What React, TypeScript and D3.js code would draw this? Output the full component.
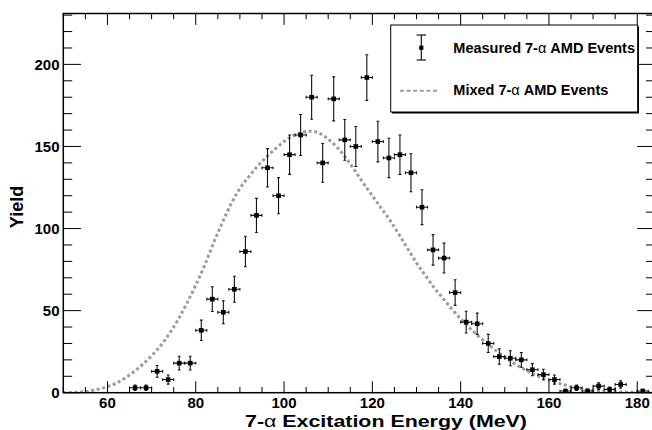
import React from "react";
import * as d3 from "d3";

// ---- data ----
const binCenters = [
  66.25, 68.75, 71.25, 73.75, 76.25, 78.75, 81.25, 83.75, 86.25, 88.75,
  91.25, 93.75, 96.25, 98.75, 101.25, 103.75, 106.25, 108.75, 111.25, 113.75,
  116.25, 118.75, 121.25, 123.75, 126.25, 128.75, 131.25, 133.75, 136.25, 138.75,
  141.25, 143.75, 146.25, 148.75, 151.25, 153.75, 156.25, 158.75, 161.25, 163.75,
  166.25, 168.75, 171.25, 173.75, 176.25, 181.25,
];
const measured = [
  3, 3, 13, 8, 18, 18, 38, 57, 49, 63,
  86, 108, 137, 120, 145, 157, 180, 140, 179, 154,
  150, 192, 153, 143, 145, 134, 113, 87, 82, 61,
  43, 42, 30, 22, 21, 20, 14, 11, 8, 1,
  3, 1, 4, 2, 5, 1,
];
const measuredErr = [
  1.7, 1.7, 3.6, 2.8, 4.2, 4.2, 6.2, 7.5, 7.0, 7.9,
  9.3, 10.4, 11.7, 11.0, 12.0, 12.5, 13.4, 11.8, 13.4, 12.4,
  12.2, 13.9, 12.4, 12.0, 12.0, 11.6, 10.6, 9.3, 9.1, 7.8,
  6.6, 6.5, 5.5, 4.7, 4.6, 4.5, 3.7, 3.3, 2.8, 1.0,
  1.7, 1.0, 2.0, 1.4, 2.2, 1.0,
];
const binHalfWidth = 1.25;

const mixedE = [
  50, 54, 58, 62, 66, 70, 73, 76, 78, 80, 82, 84, 86, 88, 90, 92, 94, 96, 98, 100,
  102, 104, 106, 108, 110, 112, 114, 116, 118, 120, 122, 124, 126, 128, 130, 132,
  134, 136, 138, 140, 142, 144, 146, 148, 150, 152, 154, 156, 158, 160, 162, 164,
  166, 168, 170, 172, 176, 180, 184,
];
const mixedYield = [
  0, 0.4, 2.2, 5.8, 12.8, 22.5, 32, 44.5, 54.5, 65.5, 77.5, 91, 103.5, 115, 124.5, 131.5, 138, 143.5, 148.5, 153,
  156.5, 158.5, 159.3, 158, 154.5, 149.5, 143, 135.5, 127.5, 120, 112.5, 105, 96.5, 87.8, 79, 71.5,
  64, 57.5, 51, 45, 39.5, 34.5, 30, 25.6, 21.8, 18, 14.8, 12, 9.6, 7.6, 5.9, 4.4,
  3.2, 2.2, 1.6, 1.1, 0.5, 0.2, 0.1,
];

const xMajorTicks = [60, 80, 100, 120, 140, 160, 180];
const yMajorTicks = [0, 50, 100, 150, 200];
const xDomain = [50, 184];
const yDomain = [0, 231];

const yTitle = "Yield";

// ---- layout ----
const W = 652;
const H = 430;
const L = 63.3;
const R = 654.9;
const T = 13.5;
const B = 392.7;
const FONT = "'Liberation Sans', Arial, Helvetica, sans-serif";
const GRAY = "#9c9c9c";

export default function App() {
  const x = d3.scaleLinear().domain(xDomain).range([L, R]);
  const y = d3.scaleLinear().domain(yDomain).range([B, T]);

  const xMinor = d3.range(50, 184.001, 5).filter((v) => !xMajorTicks.includes(v));
  const yMinor = d3.range(0, 231, 10).filter((v) => !yMajorTicks.includes(v));

  const xMajLen = 11.4, xMinLen = 5.7, yMajLen = 17.7, yMinLen = 8.9;

  const line = d3
    .line<number>()
    .x((_, i) => x(mixedE[i]))
    .y((d) => y(d))
    .curve(d3.curveMonotoneX);

  const pts = binCenters.map((c, i) => ({ c, v: measured[i], e: measuredErr[i] }));

  return (
    <svg width={W} height={H} style={{ position: "absolute", left: 0, top: 0, background: "#fff" }}
      fontFamily={FONT}>
      <defs>
        <clipPath id="plotclip">
          <rect x={L} y={T} width={R - L} height={B - T} />
        </clipPath>
      </defs>
      <rect x={0} y={0} width={W} height={H} fill="#fff" />

      {/* mixed curve */}
      <path d={line(mixedYield) || ""} fill="none" stroke={GRAY} strokeWidth={3}
        strokeDasharray="3 2.6" clipPath="url(#plotclip)" />

      {/* measured points */}
      <g clipPath="url(#plotclip)">
        {pts.map((p, i) => {
          const cx = x(p.c), cy = y(p.v);
          const x0 = x(p.c - binHalfWidth), x1 = x(p.c + binHalfWidth);
          const y0 = y(p.v - p.e), y1 = y(p.v + p.e);
          return (
            <g key={i} stroke="#111" strokeWidth={1.1}>
              <line x1={x0} x2={x1} y1={cy} y2={cy} />
              <line x1={cx} x2={cx} y1={y0} y2={y1} />
              <line x1={x0} x2={x0} y1={cy - 1.4} y2={cy + 1.4} />
              <line x1={x1} x2={x1} y1={cy - 1.4} y2={cy + 1.4} />
              <line x1={cx - 1.4} x2={cx + 1.4} y1={y0} y2={y0} />
              <line x1={cx - 1.4} x2={cx + 1.4} y1={y1} y2={y1} />
              <rect x={cx - 2.3} y={cy - 2.3} width={4.6} height={4.6} fill="#000" stroke="none" />
            </g>
          );
        })}
      </g>

      {/* ticks */}
      <g stroke="#000" strokeWidth={1}>
        {xMajorTicks.map((t) => (
          <g key={"xM" + t}>
            <line x1={x(t)} x2={x(t)} y1={B} y2={B - xMajLen} />
            <line x1={x(t)} x2={x(t)} y1={T} y2={T + xMajLen} />
          </g>
        ))}
        {xMinor.map((t) => (
          <g key={"xm" + t}>
            <line x1={x(t)} x2={x(t)} y1={B} y2={B - xMinLen} />
            <line x1={x(t)} x2={x(t)} y1={T} y2={T + xMinLen} />
          </g>
        ))}
        {yMajorTicks.map((t) => (
          <g key={"yM" + t}>
            <line x1={L} x2={L + yMajLen} y1={y(t)} y2={y(t)} />
            <line x1={R} x2={R - yMajLen} y1={y(t)} y2={y(t)} />
          </g>
        ))}
        {yMinor.map((t) => (
          <g key={"ym" + t}>
            <line x1={L} x2={L + yMinLen} y1={y(t)} y2={y(t)} />
            <line x1={R} x2={R - yMinLen} y1={y(t)} y2={y(t)} />
          </g>
        ))}
      </g>

      {/* frame */}
      <rect x={L} y={T} width={R - L} height={B - T} fill="none" stroke="#000" strokeWidth={1.5} />

      {/* tick labels */}
      {xMajorTicks.map((t) => (
        <text key={"xl" + t} x={x(t)} y={408} textAnchor="middle" fontSize={15} fontWeight="bold">
          {t}
        </text>
      ))}
      {yMajorTicks.map((t) => (
        <text key={"yl" + t} x={59.5} y={y(t) + 5.3} textAnchor="end" fontSize={15} fontWeight="bold">
          {t}
        </text>
      ))}

      {/* axis titles */}
      <text x={245} y={427} textAnchor="start" fontSize={17} fontWeight="bold"
        textLength={282} lengthAdjust="spacingAndGlyphs">
        <tspan>7-</tspan>
        <tspan fontWeight="normal">{"\u03b1"}</tspan>
        <tspan> Excitation Energy (MeV)</tspan>
      </text>
      <text transform="translate(23,207) rotate(-90)" textAnchor="middle" fontSize={18} fontWeight="bold">
        {yTitle}
      </text>

      {/* legend */}
      <rect x={392} y={26.5} width={247} height={87} fill="#000" />
      <rect x={390.7} y={25} width={247} height={87} fill="#fff" stroke="#000" strokeWidth={1} />
      <g stroke="#000" strokeWidth={1.1}>
        <line x1={421.3} x2={421.3} y1={35} y2={60} />
        <line x1={416.6} x2={426} y1={35} y2={35} />
        <line x1={416.6} x2={426} y1={60} y2={60} />
        <rect x={419.2} y={45.6} width={4.2} height={4.2} fill="#000" stroke="none" />
      </g>
      <text x={453.3} y={52.7} fontSize={14.5} fontWeight="bold">
        <tspan>Measured 7-</tspan>
        <tspan fontWeight="normal">{"\u03b1"}</tspan>
        <tspan> AMD Events</tspan>
      </text>
      <line x1={400} x2={439} y1={90.7} y2={90.7} stroke={GRAY} strokeWidth={2} strokeDasharray="4 2.6" />
      <text x={453.3} y={95} fontSize={14.5} fontWeight="bold">
        <tspan>Mixed 7-</tspan>
        <tspan fontWeight="normal">{"\u03b1"}</tspan>
        <tspan> AMD Events</tspan>
      </text>
    </svg>
  );
}
